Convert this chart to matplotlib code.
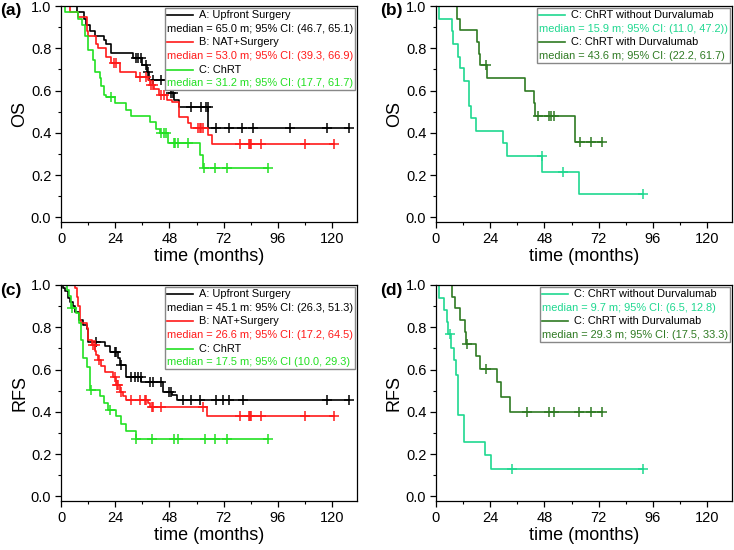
import numpy as np
import matplotlib
matplotlib.use("Agg")
import matplotlib.pyplot as plt
from matplotlib.offsetbox import AnchoredOffsetbox, VPacker, HPacker, TextArea, DrawingArea
from matplotlib.lines import Line2D
from matplotlib.ticker import MultipleLocator

plt.rcParams['font.family'] = ['Liberation Sans', 'DejaVu Sans']

BLACK = 'black'
RED = '#ff1a1a'
GREEN = '#22e022'
MINT = '#1fd890'
DKGREEN = '#2f7a23'

# ---- (a) OS by treatment group ----
a_os_t = [7, 10, 11, 13, 15, 19, 20, 22, 32, 36, 38, 39, 47, 48.5, 50, 52.4, 65.2]
a_os_s = [0.97, 0.94, 0.91, 0.88, 0.86, 0.84, 0.82, 0.776, 0.752, 0.72, 0.69, 0.65, 0.61, 0.587, 0.555, 0.524, 0.421]
a_os_c = [33.3, 34, 35.5, 37.5, 38.5, 40.7, 44.3, 48.8, 49.5, 57.6, 62, 64.2, 64.9, 68.6, 74.4,
          80.3, 85, 101.2, 117.8, 127.5]

b_os_t = [4, 7.6, 11.3, 12, 15.7, 16.5, 20, 22, 26, 33, 38.5, 39.5, 41, 43.5, 47, 49, 52.4, 56, 57.5, 65.2, 66.7]
b_os_s = [0.97, 0.95, 0.88, 0.86, 0.82, 0.80, 0.76, 0.73, 0.69, 0.665, 0.65, 0.626, 0.605, 0.58, 0.555,
          0.547, 0.476, 0.445, 0.424, 0.39, 0.347]
b_os_c = [23.5, 24.5, 34.8, 37.7, 40, 40.7, 44.3, 45.8, 60.8, 61.5, 62, 62.7, 79.1, 83, 83.6, 84, 88.4, 107.8, 121]

c_os_t = [1.8, 7.6, 9.1, 10.6, 12, 14.2, 15, 17.2, 17.8, 19.1, 20, 24, 28.9, 31.1, 39.6, 42.1, 43.6, 47.3, 61.7, 63]
c_os_s = [0.97, 0.94, 0.91, 0.86, 0.79, 0.745, 0.69, 0.66, 0.62, 0.58, 0.57, 0.54, 0.51, 0.48, 0.45,
          0.42, 0.40, 0.353, 0.295, 0.235]
c_os_c = [22.3, 44.3, 45.5, 46.5, 49.9, 50.5, 52, 56, 63.4, 68.3, 73.3, 91.5]

# ---- (b) OS, ChRT with / without Durvalumab ----
cn_os_t = [1.5, 6.9, 7.6, 9.8, 10.8, 12.4, 14.6, 15.7, 17.6, 29.6, 31.3, 47.1, 63.5]
cn_os_s = [0.94, 0.88, 0.82, 0.76, 0.705, 0.645, 0.527, 0.47, 0.41, 0.35, 0.29, 0.216, 0.109]
cn_os_c = [46.9, 56.2, 91.5]

dw_os_t = [9.4, 10.5, 18.3, 18.9, 19.6, 22.6, 39.5, 43.2, 43.9, 61.5]
dw_os_s = [0.94, 0.885, 0.83, 0.775, 0.72, 0.66, 0.60, 0.54, 0.48, 0.358]
dw_os_c = [22.3, 45, 50, 50.8, 52.3, 63.7, 68.4, 73.5]

# ---- (c) RFS by treatment group ----
a_rfs_t = [1, 1.8, 2.9, 4, 5.4, 6.2, 8, 9.8, 11.3, 12, 19.4, 21.6, 25.3, 26, 28.9, 35.5, 45, 49, 51.4]
a_rfs_s = [0.984, 0.97, 0.937, 0.92, 0.90, 0.87, 0.835, 0.81, 0.79, 0.73, 0.71, 0.685, 0.655, 0.62,
           0.567, 0.54, 0.496, 0.48, 0.457]
a_rfs_c = [15.5, 23.8, 24.5, 26.5, 31.1, 32.6, 34.1, 35.2, 39.2, 40.7, 44.3, 48, 48.8, 53.9, 57.6,
           61.5, 68.6, 71.5, 74.4, 80.6, 117.8, 127.5]

b_rfs_t = [6.2, 6.9, 7.6, 8.3, 9, 11.3, 12, 13.5, 15.2, 15.7, 16.4, 17.9, 19.4, 23, 24.5, 26, 27.5,
           28.9, 38.5, 39.2, 64.5]
b_rfs_s = [0.984, 0.945, 0.9, 0.835, 0.82, 0.795, 0.74, 0.716, 0.69, 0.67, 0.645, 0.615, 0.586, 0.564,
           0.528, 0.496, 0.476, 0.457, 0.444, 0.422, 0.381]
b_rfs_c = [14.2, 15, 16.6, 23.8, 24.8, 25.2, 26.7, 30.8, 34.8, 37.3, 37.7, 40.2, 40.7, 44.3, 62.7,
           79.1, 83, 83.6, 84, 88.4, 107.8, 120.7]

c_rfs_t = [2.5, 3.5, 4.5, 6.5, 7.9, 8.8, 9.8, 11.7, 12.8, 17.2, 19.1, 20.9, 24.2, 26.7, 28.9, 33]
c_rfs_s = [0.976, 0.95, 0.89, 0.866, 0.82, 0.74, 0.654, 0.614, 0.504, 0.476, 0.44, 0.41, 0.378,
           0.342, 0.307, 0.272]
c_rfs_c = [5, 13.2, 21.6, 33.3, 40.2, 49.9, 52, 63.7, 68.3, 73.3, 91.5]

# ---- (d) RFS, ChRT with / without Durvalumab ----
cn_rfs_t = [1.5, 3.5, 4.7, 5.4, 6.6, 8, 8.8, 9.8, 12.4, 21.5, 24.2]
cn_rfs_s = [0.937, 0.88, 0.824, 0.77, 0.70, 0.643, 0.575, 0.383, 0.257, 0.194, 0.129]
cn_rfs_c = [6.1, 33.7, 91.5]

dw_rfs_t = [7.2, 8.6, 10.8, 12.7, 13.2, 17.6, 19.3, 26.9, 28.8, 32.8]
dw_rfs_s = [0.945, 0.89, 0.835, 0.776, 0.72, 0.665, 0.603, 0.54, 0.47, 0.40]
dw_rfs_c = [13.5, 22, 40.3, 50.1, 52.3, 63.5, 68.4, 73.5]

labels_abc = ['A: Upfront Surgery', 'B: NAT+Surgery', 'C: ChRT']
labels_dur = ['C: ChRT without Durvalumab', 'C: ChRT with Durvalumab']
med_a = ['median = 65.0 m; 95% CI: (46.7, 65.1)',
         'median = 53.0 m; 95% CI: (39.3, 66.9)',
         'median = 31.2 m; 95% CI: (17.7, 61.7)']
med_b = ['median = 15.9 m; 95% CI: (11.0, 47.2))',
         'median = 43.6 m; 95% CI: (22.2, 61.7)']
med_c = ['median = 45.1 m: 95% CI: (26.3, 51.3)',
         'median = 26.6 m; 95% CI: (17.2, 64.5)',
         'median = 17.5 m; 95% CI (10.0, 29.3)']
med_d = ['median = 9.7 m; 95% CI: (6.5, 12.8)',
         'median = 29.3 m; 95% CI: (17.5, 33.3)']


def km(ax, t, s, c, color):
    t = np.asarray(t, float)
    s = np.asarray(s, float)
    c = np.asarray(c, float)
    tend = max(t.max(), c.max())
    xs = np.concatenate([[0], t, [tend]])
    ys = np.concatenate([[1.0], s, [s[-1]]])
    ax.step(xs, ys, where='post', color=color, lw=1.2)
    idx = np.searchsorted(t, c, side='right')
    cy = np.concatenate([[1.0], s])[idx]
    ax.plot(c, cy, ls='none', marker='+', ms=7, mew=1.1, color=color)


def key(ax, labels, meds, colors):
    rows = []
    for lab, med, col in zip(labels, meds, colors):
        da = DrawingArea(19, 6, 0, 0)
        da.add_artist(Line2D([0, 19], [3, 3], color=col, lw=1.2))
        rows.append(HPacker(children=[da, TextArea(lab, textprops=dict(color='black', size=7.9))],
                            align='center', pad=0, sep=4))
        rows.append(TextArea(med, textprops=dict(color=col, size=7.9)))
    box = VPacker(children=rows, align='left', pad=0, sep=2.6)
    anc = AnchoredOffsetbox(loc='upper right', child=box, pad=0.15, borderpad=0.15, frameon=True)
    anc.patch.set_edgecolor('#888888')
    anc.patch.set_linewidth(1.0)
    ax.add_artist(anc)


def style(ax, ylab):
    ax.set_xlim(0, 131)
    ax.set_ylim(-0.022, 1.0)
    ax.xaxis.set_major_locator(MultipleLocator(24))
    ax.xaxis.set_minor_locator(MultipleLocator(12))
    ax.yaxis.set_major_locator(MultipleLocator(0.2))
    ax.yaxis.set_minor_locator(MultipleLocator(0.1))
    ax.yaxis.set_major_formatter(plt.FormatStrFormatter('%.1f'))
    ax.tick_params(which='major', direction='out', length=4.5, width=0.9, labelsize=10.5, pad=2.5)
    ax.tick_params(which='minor', direction='out', length=2.5, width=0.8)
    ax.set_xlabel('time (months)', fontsize=13, labelpad=2)
    ax.set_ylabel(ylab, fontsize=13, labelpad=2)
    for sp in ax.spines.values():
        sp.set_linewidth(0.9)


fig = plt.figure(figsize=(7.34, 5.5), dpi=100)
W, H = 734, 550
def add_ax(l, t, r, b):
    return fig.add_axes([l / W, 1 - b / H, (r - l) / W, (b - t) / H])

ax_a = add_ax(61, 6, 357, 222)
ax_b = add_ax(436, 6, 732, 222)
ax_c = add_ax(61, 285, 357, 501)
ax_d = add_ax(436, 285, 732, 501)

km(ax_a, a_os_t, a_os_s, a_os_c, BLACK)
km(ax_a, b_os_t, b_os_s, b_os_c, RED)
km(ax_a, c_os_t, c_os_s, c_os_c, GREEN)
style(ax_a, 'OS')
key(ax_a, labels_abc, med_a, [BLACK, RED, GREEN])

km(ax_b, cn_os_t, cn_os_s, cn_os_c, MINT)
km(ax_b, dw_os_t, dw_os_s, dw_os_c, DKGREEN)
style(ax_b, 'OS')
key(ax_b, labels_dur, med_b, [MINT, DKGREEN])

km(ax_c, a_rfs_t, a_rfs_s, a_rfs_c, BLACK)
km(ax_c, b_rfs_t, b_rfs_s, b_rfs_c, RED)
km(ax_c, c_rfs_t, c_rfs_s, c_rfs_c, GREEN)
style(ax_c, 'RFS')
key(ax_c, labels_abc, med_c, [BLACK, RED, GREEN])

km(ax_d, cn_rfs_t, cn_rfs_s, cn_rfs_c, MINT)
km(ax_d, dw_rfs_t, dw_rfs_s, dw_rfs_c, DKGREEN)
style(ax_d, 'RFS')
key(ax_d, labels_dur, med_d, [MINT, DKGREEN])

for txt, x, y in [('(a)', 0, 11), ('(b)', 380, 11), ('(c)', 0, 291), ('(d)', 380, 291)]:
    fig.text(x / W, 1 - y / H, txt, fontsize=12.5, fontweight='bold', va='center', ha='left')

fig.savefig('out.png', dpi=100)
